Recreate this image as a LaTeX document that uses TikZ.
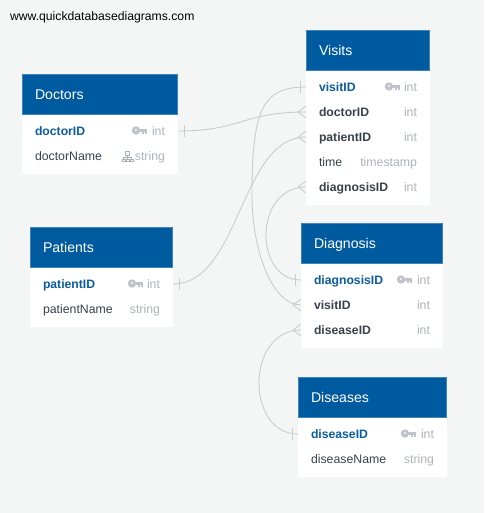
\documentclass[tikz,border=0pt]{standalone}
\usepackage{fontspec}
\setmainfont{Liberation Sans}
\definecolor{pagebg}{HTML}{F4F6F6}
\definecolor{headblue}{HTML}{005A9F}
\definecolor{headedge}{HTML}{3F84BA}
\definecolor{pkblue}{HTML}{0A5C9E}
\definecolor{darktext}{HTML}{3A404A}
\definecolor{typegrey}{HTML}{AEB2B7}
\definecolor{iconhier}{HTML}{ABB0B6}
\definecolor{keygrey}{HTML}{BFC4CB}
\definecolor{linegrey}{HTML}{C9CDCD}
\tikzset{
  x=1pt,y=-1pt,
  every node/.style={inner sep=0pt,outer sep=0pt},
  headbox/.style={draw=headedge,line width=.3pt,fill=headblue,anchor=north west,minimum height=40pt},
  bodybox/.style={fill=white,anchor=north west},
  rowbox/.style={anchor=west,minimum height=25pt},
  headtext/.style={text=white,anchor=base west,font=\fontsize{14.1}{16}\selectfont},
  pklabel/.style={text=pkblue,anchor=base west,font=\fontsize{12.2}{14}\selectfont\bfseries},
  fklabel/.style={text=darktext,anchor=base west,font=\fontsize{12.2}{14}\selectfont\bfseries},
  pllabel/.style={text=darktext,anchor=base west,font=\fontsize{12.3}{14}\selectfont},
  typelabel/.style={text=typegrey,anchor=base east,font=\fontsize{12.3}{14}\selectfont},
  conn/.style={draw=linegrey,line width=.9pt},
  pics/keyicon/.style={code={
    \fill[keygrey,even odd rule] (4,0) circle (4.2) (3.8,-.5) circle (1.2);
    \fill[keygrey] (7,-1.9) rectangle (15,1.4);
    \fill[keygrey] (10,1) rectangle (12,3.4);
    \fill[keygrey] (13,1) rectangle (15,3.4);
  }},
  pics/hiericon/.style={code={
    \draw[iconhier,line width=.5pt] (-2.2,-5.5) rectangle (2.2,-1.5);
    \draw[iconhier,line width=.5pt] (0,-1.5) -- (0,1) (-4,2.5) -- (-4,1) -- (4,1) -- (4,2.5) (0,1) -- (0,2.5);
    \draw[iconhier,line width=.5pt] (-5.5,2.5) rectangle (-2.5,5.2);
    \draw[iconhier,line width=.5pt] (-1.5,2.5) rectangle (1.5,5.2);
    \draw[iconhier,line width=.5pt] (2.5,2.5) rectangle (5.5,5.2);
  }}
}
% name, left, right, y, label style, label, type
\newcommand{\tabrow}[7]{%
  \pgfmathsetlengthmacro{\rowwd}{#3-#2}%
  \node[rowbox,minimum width=\rowwd] (#1) at (#2,#4) {};
  \node[#5] (#1-l) at ([shift={(13,4.4)}]#1.west) {#6};
  \node[typelabel] (#1-t) at ([shift={(-13,4.4)}]#1.east) {#7};
}
% name, left, right, top, bottom, title
\newcommand{\tabhead}[6]{%
  \pgfmathsetlengthmacro{\rowwd}{#3-#2}%
  \pgfmathsetlengthmacro{\rowht}{#5-#4}%
  \pgfmathsetlengthmacro{\headwd}{#3-#2-0.7}%
  \node[bodybox,minimum width=\rowwd,minimum height=\rowht] (#1-body) at (#2,#4) {};
  \node[headbox,minimum width=\headwd] (#1-head) at (#2,#4) {};
  \node[headtext] (#1-title) at ([shift={(13,25.2)}]#1-head.north west) {#6};
}
\newcommand{\barW}[1]{\draw[conn] ([shift={(-6,-6)}]#1.west) -- ([shift={(-6,6)}]#1.west);}
\newcommand{\barE}[1]{\draw[conn] ([shift={(6,-6)}]#1.east) -- ([shift={(6,6)}]#1.east);}
\newcommand{\crowW}[1]{\draw[conn] ([shift={(0,-6)}]#1.west) -- ([shift={(-8,0)}]#1.west) -- ([shift={(0,6)}]#1.west);}
\begin{document}
\begin{tikzpicture}
\fill[pagebg] (0,0) rectangle (484,513);
\useasboundingbox (0,0) rectangle (484,513);
\node[anchor=base west,text=black,font=\fontsize{12.2}{14}\selectfont] (site) at (10,20.2) {www.quickdatabasediagrams.com};

\tabhead{doc}{22}{178}{74}{174}{Doctors}
\tabrow{doc1}{22}{178}{131}{pklabel}{doctorID}{int}
\tabrow{doc2}{22}{178}{156}{pllabel}{doctorName}{string}
\pic at (132,130.5) {keyicon};
\pic at (127.5,156.5) {hiericon};

\tabhead{vis}{306}{430}{30}{205}{Visits}
\tabrow{vis1}{306}{430}{87}{pklabel}{visitID}{int}
\tabrow{vis2}{306}{430}{112}{fklabel}{doctorID}{int}
\tabrow{vis3}{306}{430}{137}{fklabel}{patientID}{int}
\tabrow{vis4}{306}{430}{162}{pllabel}{time}{timestamp}
\tabrow{vis5}{306}{430}{187}{fklabel}{diagnosisID}{int}
\pic at (385,86.5) {keyicon};

\tabhead{pat}{30}{173}{227}{327}{Patients}
\tabrow{pat1}{30}{173}{284}{pklabel}{patientID}{int}
\tabrow{pat2}{30}{173}{309}{pllabel}{patientName}{string}
\pic at (128,283.5) {keyicon};

\tabhead{dgn}{301}{443}{223}{348}{Diagnosis}
\tabrow{dgn1}{301}{443}{280}{pklabel}{diagnosisID}{int}
\tabrow{dgn2}{301}{443}{305}{fklabel}{visitID}{int}
\tabrow{dgn3}{301}{443}{330}{fklabel}{diseaseID}{int}
\pic at (397,279.5) {keyicon};

\tabhead{dis}{298}{447}{377}{477}{Diseases}
\tabrow{dis1}{298}{447}{434}{pklabel}{diseaseID}{int}
\tabrow{dis2}{298}{447}{459}{pllabel}{diseaseName}{string}
\pic at (401,433.5) {keyicon};

\draw[conn] (doc1.east) .. controls (242,131) and (242,112) .. (vis2.west);
\draw[conn] (pat1.east) .. controls (240,284) and (240,137) .. (vis3.west);
\draw[conn] (vis1.west) .. controls (262,87) and (252,110) .. (252,196) .. controls (252,250) and (272,305) .. (dgn2.west);
\draw[conn] (dgn1.west) .. controls (253.5,280) and (253.5,187) .. (vis5.west);
\draw[conn] (dis1.west) .. controls (245.5,434) and (245.5,330) .. (dgn3.west);

\barE{doc1}
\barE{pat1}
\barW{vis1}
\barW{dgn1}
\barW{dis1}
\crowW{vis2}
\crowW{vis3}
\crowW{vis5}
\crowW{dgn2}
\crowW{dgn3}
\end{tikzpicture}
\end{document}
